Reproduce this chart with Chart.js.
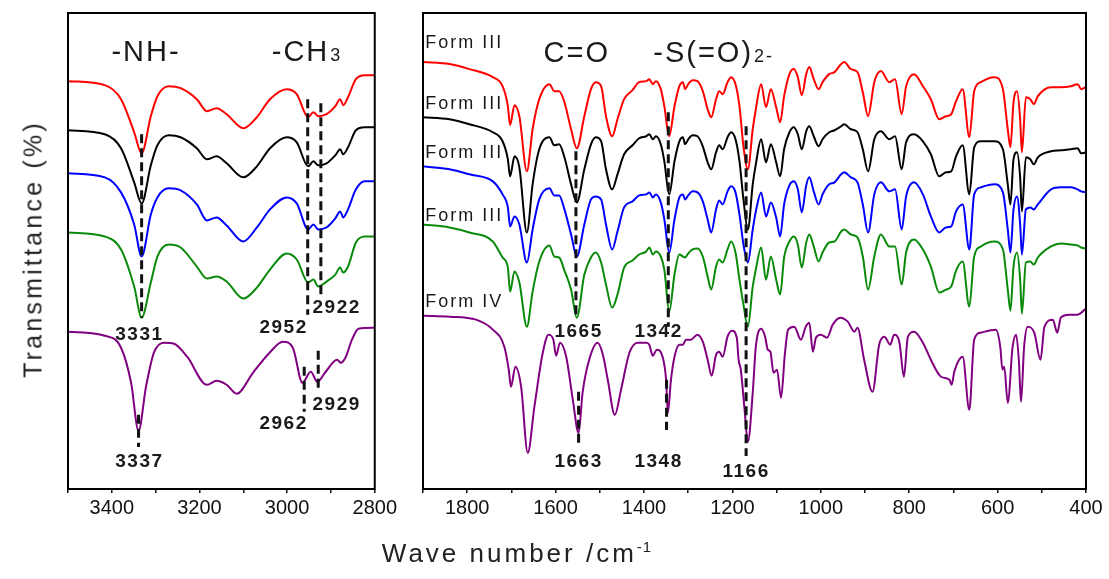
<!DOCTYPE html>
<html>
<head>
<meta charset="utf-8">
<script src="https://cdn.jsdelivr.net/npm/chart.js@4.4.1/dist/chart.umd.min.js"></script>
<style>
  body { margin: 0; background: #fff; font-family: "Liberation Sans", Arial, sans-serif; }
  #wrap { position: relative; width: 1109px; height: 579px; overflow: hidden; }
  #leftBox { position: absolute; left: 0; top: 0; }
  #rightBox { position: absolute; left: 400px; top: 0; }
  #yTitle { position: absolute; left: 33px; top: 249px; transform: translate(-50%, -50%) rotate(-90deg);
            font-size: 25px; letter-spacing: 3.2px; white-space: nowrap; color: #222; }
  #xTitle { position: absolute; left: 517px; top: 553px; transform: translate(-50%, -50%);
            font-size: 26px; letter-spacing: 3px; white-space: nowrap; color: #222; }
  #xTitle sup { font-size: 15px; letter-spacing: 1px; }
</style>
</head>
<body>
<div id="wrap">
  <div id="leftBox"><canvas id="leftChart" width="400" height="579"></canvas></div>
  <div id="rightBox"><canvas id="rightChart" width="709" height="579"></canvas></div>
  <div id="yTitle">Transmittance (%)</div>
  <div id="xTitle">Wave number /cm<sup>-1</sup></div>
</div>
<script>
// ---- Données (transmittance en unités arbitraires, courbes décalées) ----

// Panneau gauche : 3500-2800 cm-1
const wnLeft = [3500,3416,3379,3349,3332,3311,3296,3270,3243,3206,3183,3161,3138,3100,3069,3039,3001,2978,2952,2940,2929,2910,2890,2879,2872,2861,2843,2823,2800];
const redLeft   = [407,403,389,356,335,372,392,402,400,389,377,380,374,360,371,389,399,394,371,376,372,374,382,389,383,391,409,413,413];
const blackLeft = [358,354,340,306,285,323,343,353,351,340,329,332,325,311,322,340,351,346,322,327,323,325,333,339,334,341,358,361,361];
const blueLeft  = [315,311,296,264,232,274,291,300,298,284,268,271,263,247,261,279,291,285,259,264,259,261,270,277,271,279,299,307,307];
const greenLeft = [256,252,239,202,171,206,232,244,241,222,210,212,207,190,201,219,235,229,206,209,202,207,214,221,216,222,246,252,252];

const wnPurpleLeft = [3500,3416,3379,3356,3339,3322,3304,3281,3258,3228,3183,3161,3138,3115,3078,3040,3010,2987,2965,2946,2931,2912,2886,2878,2867,2852,2837,2800];
const purpleLeft   = [157,153,141,106,58,102,136,146,145,132,104,108,104,95,116,136,147,141,106,117,107,117,129,126,131,149,160,161];

// Panneau droit : 1900-400 cm-1 (Form III)
const wnRight = [1900,1840,1795,1742,1720,1708,1703,1693,1682,1665,
  1652,1637,1614,1603,1592,1580,1565,1552,1535,1520,
  1509,1497,1486,1472,1460,1445,1426,1411,1395,1388,
  1380,1373,1362,1354,1343,1331,1320,1312,1307,1300,
  1290,1279,1267,1256,1248,1237,1230,1222,1211,1203,
  1193,1184,1175,1165,1154,1147,1135,1124,1113,1101,
  1092,1083,1071,1061,1052,1043,1033,1026,1016,1005,
  996,981,969,954,947,932,917,905,893,879,
  864,845,832,817,807,789,769,751,732,717,
  705,694,679,664,653,638,607,588,577,571,
  564,556,549,545,536,526,518,509,479,457,
  434,419,411,400];
const redRight = [426,424,419,411,402,382,363,383,372,317,
  359,389,404,397,397,386,359,340,372,399,
  406,402,372,352,369,389,398,406,407,409,
  404,407,399,382,352,382,402,406,399,404,
  408,407,397,379,371,389,397,394,406,411,
  404,382,342,319,359,379,404,381,399,381,
  366,392,414,419,411,393,414,421,409,399,
  406,414,416,424,426,419,416,396,372,406,
  417,406,409,374,402,414,402,389,369,372,
  374,387,399,351,397,406,411,399,359,341,
  386,397,369,336,391,389,384,392,401,401,
  402,404,399,401];
const blackRight = [371,369,364,356,347,329,312,332,321,256,
  304,339,351,343,344,331,304,286,319,344,
  351,347,319,299,314,334,343,350,352,354,
  349,352,344,327,294,327,347,351,344,349,
  353,352,342,326,319,336,343,339,351,356,
  349,327,289,259,304,324,349,326,344,326,
  312,339,356,361,354,339,357,362,352,342,
  349,356,358,362,364,359,356,339,317,349,
  357,349,352,319,346,354,347,334,312,316,
  317,332,343,294,341,347,347,339,304,284,
  329,336,311,277,331,329,324,331,337,338,
  339,340,335,336];
const blueRight = [322,319,314,307,294,281,262,272,264,226,
  259,289,300,293,293,279,254,232,264,289,
  292,289,264,239,257,281,287,293,294,296,
  291,294,286,269,236,269,291,294,289,293,
  297,296,287,269,256,279,288,284,297,302,
  296,274,244,226,259,277,296,272,286,271,
  252,284,303,307,299,276,303,311,297,284,
  294,304,306,314,316,311,306,284,256,294,
  306,297,299,259,292,306,294,272,256,261,
  262,277,284,239,294,301,304,296,259,236,
  279,292,264,234,279,281,279,284,299,301,
  301,299,297,296];
const greenRight = [264,261,256,247,231,221,197,217,206,162,
  197,227,243,232,231,218,199,171,214,231,
  236,226,204,181,194,221,228,234,237,241,
  234,237,232,219,177,214,234,232,231,235,
  239,240,232,212,199,222,229,226,239,247,
  236,209,184,162,202,219,241,209,232,209,
  194,231,247,252,244,221,246,254,242,227,
  236,246,247,257,259,254,251,232,199,232,
  254,242,242,204,236,249,239,222,196,199,
  202,218,227,182,232,242,247,239,199,178,
  222,236,209,175,226,227,224,231,242,245,
  244,243,241,240];

// Form IV
const wnPurpleRight = [1900,1840,1780,1742,1716,1706,1701,1691,1678,1663,
  1648,1629,1616,1605,1599,1590,1576,1561,1548,1539,
  1524,1505,1493,1482,1466,1452,1433,1414,1395,1388,
  1380,1371,1358,1350,1346,1339,1331,1320,1312,1305,
  1294,1279,1267,1256,1247,1237,1230,1222,1211,1201,
  1190,1186,1181,1173,1165,1154,1147,1135,1126,1120,
  1114,1107,1099,1090,1081,1074,1060,1045,1034,1026,
  1018,1011,1000,986,973,956,939,924,917,902,
  883,868,856,843,834,822,812,803,789,769,
  751,728,709,704,698,679,664,653,638,604,
  594,589,585,577,566,558,552,547,540,532,
  517,503,494,475,465,457,438,419,400];
const purpleRight = [173,172,169,159,142,119,102,122,102,36,
  82,136,154,149,133,146,132,89,56,96,
  129,146,134,109,74,99,136,146,146,144,
  133,139,132,109,76,109,132,144,144,149,
  149,154,147,129,113,134,137,132,152,158,
  151,129,119,82,47,96,142,160,152,139,
  137,116,119,91,136,159,162,149,162,166,
  137,151,154,151,164,171,167,157,161,129,
  97,144,152,144,154,146,112,152,157,146,
  129,112,109,104,117,132,79,149,156,159,
  142,119,122,86,142,154,129,87,142,162,
  156,129,162,169,156,171,174,174,180];

// Graduations étiquetées
const leftTickLabels = [3400, 3200, 3000, 2800];
const rightTickLabels = [1800, 1600, 1400, 1200, 1000, 800, 600, 400];

// ---- Helpers ----
const pts = (xs, ys) => xs.map((x, i) => ({ x: x, y: ys[i] }));

function spectrum(data, color) {
    return {
        data: data,
        borderColor: color,
        borderWidth: 2,
        pointRadius: 0,
        fill: false,
        cubicInterpolationMode: 'monotone'
    };
}

// cadre autour de la zone de tracé
const framePlugin = {
    id: 'frame',
    afterDraw(chart) {
        const { ctx, chartArea: a } = chart;
        ctx.save();
        ctx.strokeStyle = '#000';
        ctx.lineWidth = 2;
        ctx.strokeRect(a.left, a.top, a.right - a.left, a.bottom - a.top);
        ctx.restore();
    }
};

// traits pointillés + annotations, placés via les échelles
const marksPlugin = {
    id: 'marks',
    afterDatasetsDraw(chart, args, opts) {
        const { ctx, scales: { x, y } } = chart;
        ctx.save();
        ctx.strokeStyle = '#111';
        ctx.lineWidth = 3;
        ctx.setLineDash([9, 5]);
        (opts.lines || []).forEach(l => {
            const px = x.getPixelForValue(l.at);
            ctx.beginPath();
            ctx.moveTo(px, y.getPixelForValue(l.from));
            ctx.lineTo(px, y.getPixelForValue(l.to));
            ctx.stroke();
        });
        ctx.setLineDash([]);
        ctx.fillStyle = '#1a1a1a';
        ctx.textBaseline = 'alphabetic';
        (opts.texts || []).forEach(t => {
            ctx.font = t.font;
            ctx.letterSpacing = t.spacing || '0px';
            ctx.textAlign = t.align || 'center';
            const px = x.getPixelForValue(t.at);
            const py = y.getPixelForValue(t.v);
            ctx.fillText(t.text, px, py);
            if (t.sub) {
                const w = ctx.measureText(t.text).width;
                ctx.font = t.subFont;
                ctx.textAlign = 'left';
                ctx.fillText(t.sub, px + w + 1, py);
            }
        });
        ctx.restore();
    }
};

function baseOptions(min, max, labels, pad, marks) {
    return {
        responsive: false,
        animation: false,
        events: [],
        layout: { padding: pad },
        scales: {
            x: {
                type: 'linear',
                reverse: true,
                min: min,
                max: max,
                afterFit: s => { s.height = 90; },
                border: { display: false },
                grid: { drawOnChartArea: false, drawTicks: true, tickLength: 4, color: '#111', lineWidth: 1.5 },
                ticks: {
                    stepSize: 100,
                    autoSkip: false,
                    maxRotation: 0,
                    padding: 3,
                    color: '#111',
                    font: { family: '"Liberation Sans", Arial, sans-serif', size: 20 },
                    callback: v => labels.includes(v) ? String(v) : ''
                }
            },
            y: { display: false, min: 0, max: 475 }
        },
        plugins: { legend: { display: false }, tooltip: { enabled: false }, marks: marks }
    };
}

const bigFont = '29px "Liberation Sans", Arial, sans-serif';
const subFont = '18px "Liberation Sans", Arial, sans-serif';
const formFont = '18px "Liberation Sans", Arial, sans-serif';
const peakFont = 'bold 19px "Liberation Sans", Arial, sans-serif';

// ---- Panneau gauche ----
new Chart(document.getElementById('leftChart'), {
    type: 'line',
    data: {
        datasets: [
            spectrum(pts(wnPurpleLeft, purpleLeft), '#800080'),
            spectrum(pts(wnLeft, greenLeft), '#0a8a0a'),
            spectrum(pts(wnLeft, blueLeft), '#0000ff'),
            spectrum(pts(wnLeft, blackLeft), '#000000'),
            spectrum(pts(wnLeft, redLeft), '#ff0000')
        ]
    },
    options: baseOptions(2800, 3500, leftTickLabels, { left: 68, right: 23, top: 13, bottom: 0 }, {
        lines: [
            { at: 3332, from: 354, to: 171 },
            { at: 2953, from: 389, to: 174 },
            { at: 2923, from: 385, to: 191 },
            { at: 3339, from: 74, to: 42 },
            { at: 2961, from: 122, to: 77 },
            { at: 2929, from: 138, to: 96 }
        ],
        texts: [
            { text: '-NH-', at: 3322, v: 427, font: bigFont, spacing: '2px' },
            { text: '-CH', at: 3035, v: 427, font: bigFont, spacing: '2px', align: 'left', sub: '3', subFont: subFont },
            { text: '3331', at: 3337, v: 149, font: peakFont, spacing: '1.5px' },
            { text: '2952', at: 3008, v: 156, font: peakFont, spacing: '1.5px' },
            { text: '2922', at: 2887, v: 176, font: peakFont, spacing: '1.5px' },
            { text: '3337', at: 3337, v: 22, font: peakFont, spacing: '1.5px' },
            { text: '2962', at: 3008, v: 60, font: peakFont, spacing: '1.5px' },
            { text: '2929', at: 2887, v: 79, font: peakFont, spacing: '1.5px' }
        ]
    }),
    plugins: [framePlugin, marksPlugin]
});

// ---- Panneau droit ----
new Chart(document.getElementById('rightChart'), {
    type: 'line',
    data: {
        datasets: [
            spectrum(pts(wnPurpleRight, purpleRight), '#800080'),
            spectrum(pts(wnRight, greenRight), '#0a8a0a'),
            spectrum(pts(wnRight, blueRight), '#0000ff'),
            spectrum(pts(wnRight, blackRight), '#000000'),
            spectrum(pts(wnRight, redRight), '#ff0000')
        ]
    },
    options: baseOptions(400, 1900, rightTickLabels, { left: 23, right: 23, top: 13, bottom: 0 }, {
        lines: [
            { at: 1554, from: 337, to: 172 },
            { at: 1345, from: 376, to: 162 },
            { at: 1169, from: 362, to: 33 },
            { at: 1548, from: 97, to: 42 },
            { at: 1349, from: 109, to: 59 }
        ],
        texts: [
            { text: 'Form III', at: 1895, v: 440, font: formFont, spacing: '2px', align: 'left' },
            { text: 'Form III', at: 1895, v: 379, font: formFont, spacing: '2px', align: 'left' },
            { text: 'Form III', at: 1895, v: 330, font: formFont, spacing: '2px', align: 'left' },
            { text: 'Form III', at: 1895, v: 267, font: formFont, spacing: '2px', align: 'left' },
            { text: 'Form IV', at: 1895, v: 182, font: formFont, spacing: '2px', align: 'left' },
            { text: 'C=O', at: 1552, v: 426, font: bigFont, spacing: '2px' },
            { text: '-S(=O)', at: 1379, v: 426, font: bigFont, spacing: '2px', align: 'left', sub: '2-', subFont: subFont },
            { text: '1665', at: 1548, v: 152, font: peakFont, spacing: '1.5px' },
            { text: '1342', at: 1367, v: 152, font: peakFont, spacing: '1.5px' },
            { text: '1663', at: 1548, v: 22, font: peakFont, spacing: '1.5px' },
            { text: '1348', at: 1367, v: 22, font: peakFont, spacing: '1.5px' },
            { text: '1166', at: 1169, v: 12, font: peakFont, spacing: '1.5px' }
        ]
    }),
    plugins: [framePlugin, marksPlugin]
});
</script>
</body>
</html>
